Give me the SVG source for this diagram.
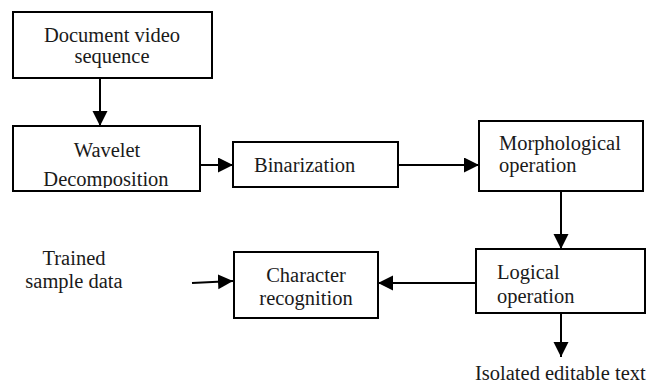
<svg xmlns="http://www.w3.org/2000/svg" width="657" height="385" viewBox="0 0 657 385">
<style>
.box{fill:#fff;stroke:#000;stroke-width:2}
.t{font-family:'Liberation Serif','Times New Roman',Times,'DejaVu Serif',serif;font-size:20.5px;fill:#1a1a1a}
.c{text-anchor:middle}
.line{stroke:#000;stroke-width:2;fill:none}
</style>
<defs>
<marker id="ah" markerUnits="userSpaceOnUse" markerWidth="16" markerHeight="16" refX="15" refY="7.5" orient="auto">
<path d="M0,0 L15,7.5 L0,15 z" fill="#000"/>
</marker>
<clipPath id="cw"><rect x="13" y="126" width="187" height="62"/></clipPath>
<clipPath id="cl"><rect x="476" y="249" width="169" height="59"/></clipPath>
</defs>
<g id="connectors">
<line class="line" x1="100" y1="78" x2="100" y2="126" marker-end="url(#ah)"/>
<line class="line" x1="200" y1="165" x2="233" y2="165" marker-end="url(#ah)"/>
<line class="line" x1="398" y1="165" x2="479" y2="165" marker-end="url(#ah)"/>
<line class="line" x1="561" y1="191" x2="561" y2="249" marker-end="url(#ah)"/>
<line class="line" x1="476" y1="283" x2="378" y2="283" marker-end="url(#ah)"/>
<line class="line" x1="561" y1="313" x2="561" y2="357" marker-end="url(#ah)"/>
<line class="line" x1="192" y1="283" x2="233" y2="281" marker-end="url(#ah)"/>
</g>
<g id="doc">
<rect class="box" x="13" y="12" width="199" height="66"/>
<text class="t c" x="112" y="42">Document video</text>
<text class="t c" x="112" y="63">sequence</text>
</g>
<g id="wavelet">
<rect class="box" x="13" y="126" width="187" height="65"/>
<g clip-path="url(#cw)">
<text class="t c" x="107" y="157">Wavelet</text>
<text class="t c" x="106" y="186">Decomposition</text>
</g>
</g>
<g id="binarization">
<rect class="box" x="233" y="142" width="165" height="45"/>
<text class="t" x="254" y="172">Binarization</text>
</g>
<g id="morph">
<rect class="box" x="479" y="121" width="164" height="70"/>
<text class="t" x="499" y="150">Morphological</text>
<text class="t" x="499" y="172">operation</text>
</g>
<g id="logical">
<rect class="box" x="476" y="249" width="169" height="64"/>
<g clip-path="url(#cl)">
<text class="t" x="497" y="279">Logical</text>
<text class="t" x="497" y="303">operation</text>
</g>
</g>
<g id="character">
<rect class="box" x="234" y="252" width="144" height="66"/>
<text class="t c" x="306" y="282">Character</text>
<text class="t c" x="306" y="305">recognition</text>
</g>
<g id="trained">
<text class="t c" x="74" y="265">Trained</text>
<text class="t c" x="74" y="288">sample data</text>
</g>
<g id="output">
<text class="t" x="475" y="380">Isolated editable text</text>
</g>
</svg>
